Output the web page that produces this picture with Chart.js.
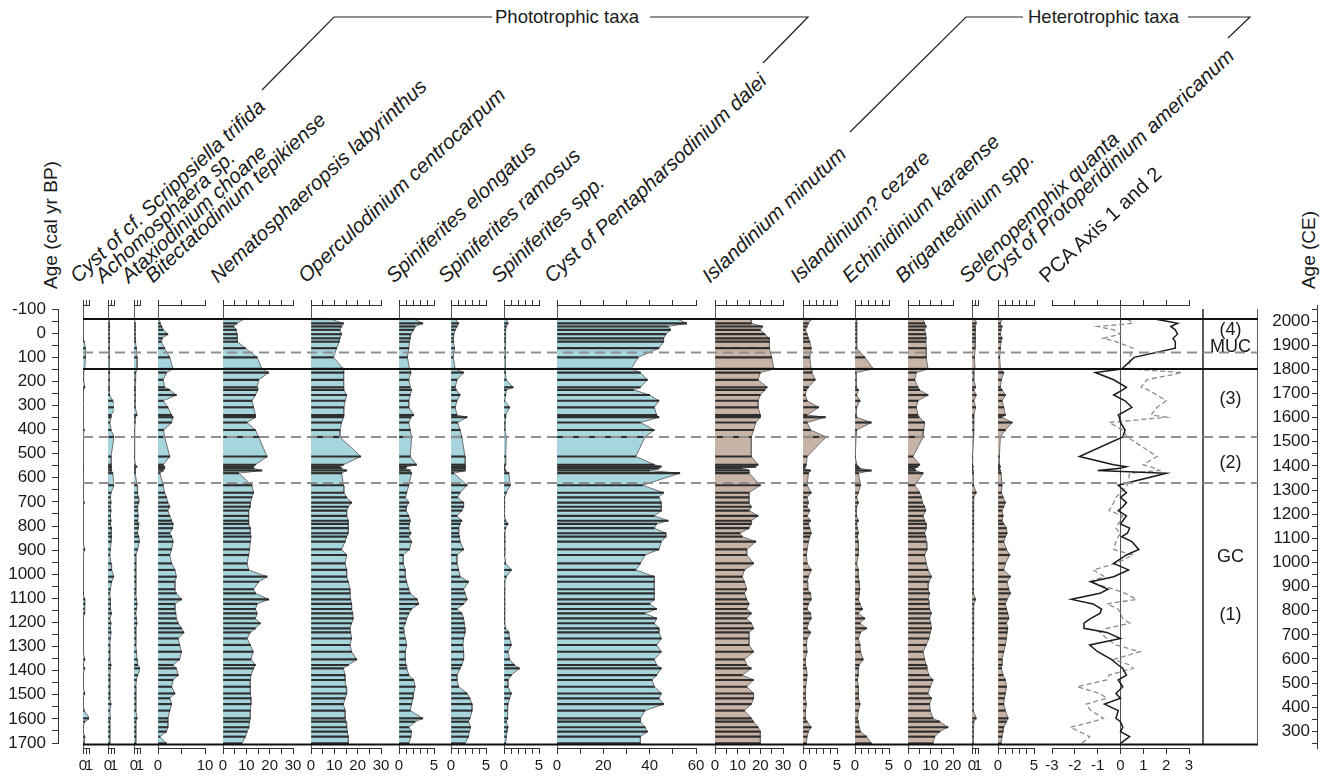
<!DOCTYPE html>
<html>
<head>
<meta charset="utf-8">
<script src="https://cdn.jsdelivr.net/npm/chart.js@4.4.1/dist/chart.umd.min.js"></script>
<style>
  body { margin: 0; width: 1328px; height: 780px; position: relative; overflow: hidden; background: #fff;
         font-family: "Liberation Sans", Arial, sans-serif; color: #1a1a1a; }
  canvas { position: absolute; }
  .taxon { position: absolute; white-space: nowrap; font-size: 20.5px; line-height: 20px; height: 20px;
           transform-origin: 0 100%; transform: rotate(-43deg); font-style: italic; }
  .taxon span { font-style: normal; }
  .group { position: absolute; font-size: 18.5px; line-height: 18px; white-space: nowrap; }
  .axtitle { position: absolute; font-size: 19px; line-height: 19px; white-space: nowrap;
             transform: translate(-50%, -50%) rotate(-90deg); }
</style>
</head>
<body>
<svg width="1328" height="300" style="position:absolute;left:0;top:0">
  <polyline points="262,90 334,17 492,17" fill="none" stroke="#222" stroke-width="1.2"/>
  <polyline points="650,17 808,17 763,63" fill="none" stroke="#222" stroke-width="1.2"/>
  <polyline points="850,132 966,17 1023,17" fill="none" stroke="#222" stroke-width="1.2"/>
  <polyline points="1188,17 1250,17 1228,38" fill="none" stroke="#222" stroke-width="1.2"/>
</svg>
<div class="group" style="left:495px;top:8px">Phototrophic taxa</div>
<div class="group" style="left:1028px;top:8px">Heterotrophic taxa</div>
<div class="axtitle" style="left:50px;top:225px">Age (cal yr BP)</div>
<div class="axtitle" style="left:1308px;top:250px">Age (CE)</div>

<script>
// sample ages (cal yr BP), top of MUC to bottom of GC
const AGES = [-59,-41,-28,-14,4,21,35,62,100,148, 163,193,224,235,256,280,307,339,348,370,
  401,430,511,545,553,560,569,580,630,661, 680,702,719,735,757,777,790,808,829,843,
  864,896,919,954,981,1009,1030,1061,1078,1103, 1122,1143,1161,1182,1202,1223,1240,1265,1292,1320,
  1352,1375,1389,1417,1437,1465,1493,1513,1537,1564, 1596,1610,1633,1651,1672,1700];

// percentages per taxon
const scrippsiella = [0,0,0,0,0,0,0.2,0.4,0.4,0.3, 0.1,0.1,0.3,0.1,0,0,0,0,0,0,
  0.2,0,0,0,0,0,0,0,0,0, 0,0.2,0,0,0,0,0,0,0,0, 0,0.3,0,0,0,0,0,0,0.1,0.3,
  0.3,0.2,0.3,0,0,0,0,0,0,0, 0.3,0,0.3,0,0,0,0.3,0,0,0.2, 1.1,0.3,0,0,0.3,0.2];
const achomosphaera = [0.2,0.2,0.3,0.2,0.2,0.3,0.2,0.2,0.2,0.2, 0.3,0.2,0.2,0.2,0.3,0.8,1.3,0.5,0.5,0.3,
  0.5,1.0,0.5,0.5,0.6,0.5,0.6,0.8,1.0,0.5, 0.4,0.5,0.4,0.5,0.4,0.5,0.4,0.6,0.5,0.6,
  0.5,0.4,0.3,0.5,0.6,1.0,0.6,0.4,0.3,0.4, 0.4,0.4,0.6,0.3,0.5,0.4,0.5,0.4,0.3,0.3,
  0.3,0.5,0.4,0.3,0.3,0.3,0.3,0.3,0.5,0.3, 0.4,0.3,0.3,0.3,0.3,0.3];
const ataxiodinium = [0.1,0.2,0.2,0.2,0.2,0.2,0.3,0.4,0.5,0.5, 0.3,0.2,0.2,0.2,0.2,0.2,0.2,0.5,0.2,0.2,
  0.1,0.1,0.1,0.2,0.5,0.2,0.2,0.2,0.5,0.6, 0.7,0.8,0.6,0.6,0.7,0.6,0.8,0.7,0.6,0.8,
  0.9,0.6,0.3,0.3,0.3,0.3,0.3,0.3,0.3,0.4, 0.5,0.4,0.3,0.4,0.5,0.3,0.3,0.3,0.3,0.4,
  0.5,0.6,1.1,0.6,0.4,0.3,0.3,0.3,0.3,0.3, 0.5,0.3,0.3,0.3,0.3,0.3];
const bitectatodinium = [0.2,0.5,0.8,1.1,2.1,0.9,0.7,1.4,2.5,3.2, 1.8,1.1,1.4,2.5,3.9,1.1,2.1,2.9,3.2,2.9,
  1.2,1.4,2.5,1.1,1.4,1.4,1.1,0.4,1.1,1.4, 1.8,2.1,2.5,2.1,2.5,2.9,3.2,3.1,2.5,2.9,
  3.2,2.9,2.5,2.9,3.6,3.9,3.6,3.6,3.9,5.0, 3.6,3.6,3.8,3.9,4.3,5.0,5.5,4.3,4.6,5.0,
  4.6,3.2,3.9,4.3,3.2,2.9,3.6,2.5,2.9,2.5, 2.1,2.1,2.1,1.8,0.4,1.8];
const nematosphaeropsis = [8.9,6,4.6,5.7,6,6,6.3,9.6,14.6,16.7, 19.6,15.3,14.6,14.9,13.9,12.4,13.1,13.9,13.9,10.3,
  13.9,15.3,18.9,13.9,13.1,13.1,16.7,6.7,12.4,13.1, 12.4,11.7,11.7,11,11,11,11,11.7,11.7,12,
  11.7,11.4,11,10.3,11,18.9,15.3,13.1,13.9,19.6, 14.6,13.9,14.6,13.9,16,13.9,11.7,10.3,11.7,12.9,
  12,13.9,13.1,12,11.7,11.7,11.7,12,12,11.7, 11.7,11.4,11.1,10.3,9.6,8.1];
const operculodinium = [8.1,13.9,13.1,12.4,13.1,12.4,12.1,11,9.6,13.9, 14.1,13.9,13.9,14.1,15.3,14.6,14.1,14.1,13.9,13.1,
  12.4,12.4,21.3,13.9,12.4,13.1,15.3,13.1,13.9,14.1, 15.3,17.4,16,15.3,15.3,16,16,16,16,15.3,
  14.6,13.1,15.3,14.6,15.3,15.3,16,16.7,16.7,17, 17.4,17.4,17.9,18.1,17.4,16.7,17,17.4,16.7,17.4,
  19.6,16,13.9,14.6,14.6,15,15.3,14.6,13.9,14.6, 14.6,15,15.3,15.6,16,16];
const spinElongatus = [2.1,3.4,2.3,2.1,1.7,1.6,1.5,1.4,1.2,1.5, 1.7,1.4,1.6,1.8,1.6,1.4,1.4,2.1,1.7,1.4,
  1.6,1.8,1.6,2.5,1.1,0.9,1.6,1.8,1.4,1.1, 0.9,1.4,1.1,1.0,1.4,1.6,1.5,1.4,1.7,1.4,
  1.8,1.5,0.6,0.6,0.9,0.9,1.1,1.4,1.6,2.6, 2.8,1.8,1.4,1.1,0.9,0.6,0.7,0.9,1.1,0.9,
  0.9,1.0,1.1,1.4,2.1,2.3,2.1,2.0,1.8,1.6, 3.4,2.3,1.4,1.8,1.7,1.4];
const spinRamosus = [0.6,1.1,0.85,0.6,0.4,0.3,0.4,0.5,0.3,0.6, 1.8,0.85,0.6,0.75,1.3,0.85,0.6,0.85,2.3,0.95,
  1.3,1.55,2.0,2.0,2.1,2.0,2.0,0.4,2.3,1.3, 0.95,1.8,1.8,1.55,0.85,1.55,1.3,1.1,1.1,1.2,
  1.3,1.8,0.85,0.85,1.1,1.3,2.5,1.8,2.0,2.3, 1.8,0.85,1.55,1.8,1.9,2.0,2.0,1.8,1.7,1.8,
  1.8,1.55,1.3,0.85,0.85,1.1,2.3,2.7,3.0,3.0, 2.7,2.5,2.8,2.6,2.5,2.0];
const spinSpp = [0.33,0.57,0.33,0.24,0.19,0.19,0.19,0.19,0.19,0.19, 0.24,0.3,1.3,0.33,0.24,0.1,0.8,0.24,0.24,0.14,
  0.14,0.33,0.24,0.24,0.1,0.1,0.24,0.7,0.9,0.33, 0.1,0.1,0.1,0,0.1,0.24,0.57,0.24,0.1,0.1,
  0.14,0.1,0.1,0.24,1.05,0.33,0.1,0.1,0.1,0.1, 0.1,0.1,0.1,0.1,0.1,0.24,0.7,0.8,1.05,0.57,
  0.8,1.5,2.2,1.05,0.57,0.57,1.05,0.8,0.57,0.43, 0.57,0.33,0.57,0.43,0.33,0.24];
const pentapharsodinium = [52,56,48,49,47,46,46,44,35,32, 36,39,36,33,40,44,42,43,44,36,
  42,38,34,42,45,44,40,53,37,46, 44,45,45,45,42,48,43,42,47,47,
  45,44,38,36,34,42,42,42,42,42, 40,43,38,43,42,44,44,45,43,45,
  42,43,45,43,41,42,45,44,46,38, 36,36,38,39,36,36];
const islMinutum = [16,16,21,20,22,24,24,24,25,26, 20,19,23,22,20,19,19,20,20,18,
  17,16,16,19,18,12,15,15,20,15, 15,15,16,15,19,16,16,15,11,12,
  18,14,14,17,13,12,13,14,13,14, 15,14,16,14,16,17,15,15,15,17,
  13,14,16,12,17,14,17,17,16,13, 16,17,19,20,20,20];
const islCezare = [1.3,0.8,0.6,0.35,0.6,0.8,1.0,1.2,1.0,1.2, 1.3,1.8,0.8,0.5,0.35,0.6,2.3,0.6,3.3,0.6,
  1.1,3.4,0.6,0.5,0.35,0.2,1.1,0.8,0.6,1.2, 0.6,0.8,0.6,1.0,0.6,1.1,0.8,1.0,1.2,1.0,
  0.8,0.6,0.5,0.6,1.2,0.8,0.6,0.7,1.1,1.2, 0.8,0.6,1.1,1.2,0.8,0.6,1.1,0.6,0.5,0.6,
  0.35,0.35,0.5,0.6,0.5,0.4,0.35,0.35,0.5,0.35, 0.35,0.6,1.2,0.8,0.6,0.5];
const echinidinium = [0.25,0.25,0.25,0.25,0.25,0.25,0.25,0.25,1.45,2.7, 0.15,0.15,0.25,0.5,0.25,0.73,0.25,0.15,0.25,2.4,
  0.25,0.15,0.05,0.25,0.5,0.73,2.4,0.5,0.8,0.5, 0.25,0.5,0.25,0.15,0.25,0.5,0.25,0.35,0.5,0.35,
  0.5,0.5,0.5,0.25,0.5,0.5,0.6,0.73,0.6,0.5, 0.73,1.1,0.5,1.45,0.73,1.7,0.8,0.5,0.73,0.8,
  1.2,0.6,0.5,0.5,0.35,0.5,0.5,0.5,0.73,0.5, 0.35,0.5,0.6,0.8,1.7,2.4];
const brigantedinium = [6.7,7.4,8.1,7.4,7.9,8.1,7.9,8.1,8.1,8.9, 3.7,3.0,4.4,5.2,8.9,4.4,3.7,4.4,4.9,7.4,
  7.0,6.7,2.2,5.2,4.4,3.0,3.4,6.7,3.0,5.2, 5.9,6.4,7.4,7.9,6.7,7.4,8.1,8.1,7.4,7.9,
  8.1,8.4,7.4,8.1,8.9,10.4,9.3,8.9,9.6,8.9, 9.3,9.6,10.4,9.6,10.1,10.4,9.9,9.3,8.1,6.7,
  7.4,8.1,8.4,9.3,11.1,9.9,8.9,10.4,9.6,9.9, 11.1,14.1,17.8,14.1,11.9,11.1];
const selenopemphix = [0.6,0.7,0.5,0.6,0.5,0.6,0.5,0.5,0.4,0.5, 0.3,0.3,0.6,0.3,0.7,0.3,0.6,0.3,0.3,0.3,
  0.3,0.2,0.1,0.1,0.2,0.1,0.2,0.2,0.3,0.7, 0.3,0.2,0.2,0.3,0.2,0.2,0.3,0.2,0.2,0.2,
  0.3,0.2,0.2,0.2,0.3,0.2,0.2,0.3,0.2,0.6, 0.3,0.2,0.2,0.2,0.3,0.2,0.2,0.3,0.2,0.2,
  0.2,0.2,0.3,0.2,0.2,0.2,0.2,0.2,0.3,0.2, 0.7,0.3,0.2,0.2,0.2,0.2];
const protoperidinium = [0.56,0.33,0.56,0.42,0.33,0.56,0.42,0.33,0.23,0.33, 0.8,0.47,0.33,0.56,1.03,0.56,0.8,1.03,0.56,1.96,
  1.03,0.33,0.19,0.19,0.33,0.23,0.33,0.42,0.56,0.47, 0.7,1.03,0.8,0.56,0.7,0.56,0.8,1.17,1.26,1.03,
  0.8,1.17,1.64,1.03,0.8,1.73,1.26,1.5,1.73,1.26, 1.03,1.17,1.36,1.5,1.17,1.36,1.26,1.17,1.03,0.8,
  0.56,0.56,0.47,0.7,1.03,1.17,1.03,0.89,0.8,1.03, 1.4,1.17,0.8,0.7,0.56,0.42];
// PCA scores
const pcaAxis1 = [1.5,2.5,2.2,2.4,2.5,2.3,2.4,2.4,0.6,0.05, -1.1,-0.3,0.26,0.1,-0.3,0.2,0.5,-0.1,-0.05,0,
  0.2,0.1,-1.8,-0.3,0.26,0,-1.0,2.0,-0.1,0.26, 0,0.26,0.1,-0.1,0.26,0.1,0,0.4,0.3,0.05,
  0.5,0.8,0.26,-0.3,0.35,-0.3,-1.3,-0.55,-0.9,-2.15, -1.2,-0.83,-0.9,-1.3,-1.6,-1.6,-0.6,0,-1.35,-1.0,
  -0.4,-0.1,0.1,0.26,-0.1,0.1,-0.2,0,-0.7,-0.1, -0.2,0,0.1,0,0.4,0];
const pcaAxis2 = [0.3,0.55,-1.0,-0.3,0,-0.75,-0.2,0.55,0.4,0.4, 2.7,1.15,0.9,1.2,1.6,2.0,1.6,1.35,2.0,-0.5,
  0.1,0.3,1.6,1.0,1.3,1.5,1.7,0.4,0.3,0, -0.2,-0.3,-0.4,-0.5,0.1,0,-0.1,-0.2,0,-0.1,
  -0.2,-0.3,0.55,-0.2,-1.2,-0.7,-1.35,-0.3,0.2,0.7, -0.6,-0.1,0,0.1,0.4,-0.6,-0.9,-0.6,-0.2,0.85,
  -0.3,0.4,0.55,-0.5,-0.6,-1.9,-0.9,-0.6,-1.5,-1.3, -0.75,-1.2,-2.2,-1.8,-1.35,-1.7];

// zone boundaries and labels
const solidBounds = [-59, 148, 1704];
const dashedBounds = [80, 430, 621];
const zoneLabels = ['(4)', 'MUC', '(3)', '(2)', 'GC', '(1)'];
const zoneAges = [-14, 56, 272, 538, 927, 1168];

const BLUE = '#a6d5de', BROWN = '#c8b4a6';
const AGE_TOP = -117, AGE_BOTTOM = 1719;   // plot area 305..748 px
const AREA_TOP = 305, AREA_H = 443;

Chart.defaults.font.family = '"Liberation Sans", Arial, sans-serif';
Chart.defaults.color = '#1a1a1a';

const panels = [
  {name: 'Cyst of cf. <i>Scrippsiella trifida</i>', data: scrippsiella, x0: 83, w: 6, max: 1, step: 0.5, labels: [0, 1], color: BLUE},
  {name: '<i>Achomosphaera</i> sp.', data: achomosphaera, x0: 108, w: 6, max: 1, step: 0.5, labels: [0, 1], color: BLUE},
  {name: '<i>Ataxiodinium choane</i>', data: ataxiodinium, x0: 134, w: 6, max: 1, step: 0.5, labels: [0, 1], color: BLUE},
  {name: '<i>Bitectatodinium tepikiense</i>', data: bitectatodinium, x0: 158, w: 47, max: 10, step: 5, labels: [0, 10], color: BLUE},
  {name: '<i>Nematosphaeropsis labyrinthus</i>', data: nematosphaeropsis, x0: 223, w: 70, max: 30, step: 5, labels: [0, 10, 20, 30], color: BLUE},
  {name: '<i>Operculodinium centrocarpum</i>', data: operculodinium, x0: 311, w: 70, max: 30, step: 5, labels: [0, 10, 20, 30], color: BLUE},
  {name: '<i>Spiniferites elongatus</i>', data: spinElongatus, x0: 399, w: 35, max: 5, step: 1, labels: [0, 5], color: BLUE},
  {name: '<i>Spiniferites ramosus</i>', data: spinRamosus, x0: 451, w: 35, max: 5, step: 1, labels: [0, 5], color: BLUE},
  {name: '<i>Spiniferites</i> spp.', data: spinSpp, x0: 504, w: 35, max: 5, step: 1, labels: [0, 5], color: BLUE},
  {name: 'Cyst of <i>Pentapharsodinium dalei</i>', data: pentapharsodinium, x0: 557, w: 139, max: 60, step: 10, labels: [0, 20, 40, 60], color: BLUE},
  {name: '<i>Islandinium minutum</i>', data: islMinutum, x0: 715, w: 68, max: 30, step: 5, labels: [0, 10, 20, 30], color: BROWN},
  {name: '<i>Islandinium? cezare</i>', data: islCezare, x0: 803, w: 34, max: 5, step: 1, labels: [0, 5], color: BROWN},
  {name: '<i>Echinidinium karaense</i>', data: echinidinium, x0: 855, w: 34, max: 5, step: 1, labels: [0, 5], color: BROWN},
  {name: '<i>Brigantedinium</i> spp.', data: brigantedinium, x0: 908, w: 45, max: 20, step: 5, labels: [0, 10, 20], color: BROWN},
  {name: '<i>Selenopemphix quanta</i>', data: selenopemphix, x0: 972, w: 6, max: 1, step: 0.5, labels: [0, 1], color: BROWN},
  {name: 'Cyst of <i>Protoperidinium americanum</i>', data: protoperidinium, x0: 998, w: 36, max: 5, step: 1, labels: [0, 5], color: BROWN},
  {name: '<span>PCA Axis 1 and 2</span>', pca: true, x0: 1052, w: 137, min: -3, max: 3, step: 1, labels: [-3, -2, -1, 0, 1, 2, 3]}
];

function toPoints(vals) {
  return AGES.map((a, i) => ({x: vals[i], y: a}));
}

function addCanvas(left, top, w, h) {
  const cv = document.createElement('canvas');
  cv.width = w; cv.height = h;
  cv.style.left = left + 'px';
  cv.style.top = top + 'px';
  document.body.appendChild(cv);
  return cv;
}

function drawPanel(p) {
  const PAD = 14, TOP_H = 10, BOT_H = 32;
  const cv = addCanvas(p.x0 - PAD, AREA_TOP - TOP_H, p.w + 2 * PAD, TOP_H + AREA_H + BOT_H);
  const min = p.min || 0;
  let datasets;
  if (p.pca) {
    datasets = [
      {type: 'line', data: toPoints(pcaAxis1), borderColor: '#1a1a1a', borderWidth: 1.5, pointRadius: 0, fill: false},
      {type: 'line', data: toPoints(pcaAxis2), borderColor: '#8c8c8c', borderWidth: 1.3, borderDash: [5, 3], pointRadius: 0, fill: false}
    ];
  } else {
    const pts = toPoints(p.data);
    datasets = [
      {type: 'bar', data: pts, backgroundColor: '#2e2e2e', barThickness: 1.5, order: 1},
      {type: 'line', data: pts, borderColor: '#707070', borderWidth: 1, backgroundColor: p.color,
       fill: 'origin', pointRadius: 0, tension: 0, order: 2}
    ];
  }
  new Chart(cv, {
    type: 'line',
    data: {datasets: datasets},
    options: {
      indexAxis: 'y', responsive: false, animation: false, devicePixelRatio: 1, events: [],
      layout: {padding: {left: PAD, right: PAD, top: 0, bottom: 0}},
      plugins: {legend: {display: false}, tooltip: {enabled: false}},
      scales: {
        y: {type: 'linear', display: false, reverse: true, min: AGE_TOP, max: AGE_BOTTOM, offset: false, grid: {offset: false}},
        x: {type: 'linear', position: 'bottom', min: min, max: p.max, z: 1, offset: false,
            ticks: {stepSize: p.step, autoSkip: false, maxRotation: 0, includeBounds: false, padding: 3,
                    font: {size: 15}, color: '#1a1a1a',
                    callback: v => p.labels.includes(v) ? String(v) : ''},
            grid: {color: c => (c.tick && c.tick.value === 0) ? '#555' : 'rgba(0,0,0,0)',
                   tickColor: '#333', tickLength: 6, lineWidth: 1},
            border: {color: '#333', width: 1},
            afterFit: s => { s.height = BOT_H; s.paddingLeft = 0; s.paddingRight = 0; }},
        xt: {type: 'linear', axis: 'x', position: 'top', min: min, max: p.max, offset: false,
             ticks: {stepSize: p.step, display: false, includeBounds: false},
             grid: {drawOnChartArea: false, tickColor: '#333', tickLength: 5},
             border: {color: '#333', width: 1},
             afterFit: s => { s.height = TOP_H; s.paddingLeft = 0; s.paddingRight = 0; }}
      }
    }
  });

  // taxon header
  const d = document.createElement('div');
  d.className = 'taxon';
  d.innerHTML = p.name;
  d.style.left = (p.x0 - 3) + 'px';
  d.style.top = (286 - 20) + 'px';
  document.body.appendChild(d);
}

panels.forEach(drawPanel);

// zone frame: boundaries across all panels, zone column
const COL_X = (1203 - 83) / 1175;
const frameSets = [];
solidBounds.forEach(a => frameSets.push({data: [{x: 0, y: a}, {x: 1, y: a}], borderColor: '#111', borderWidth: 2}));
dashedBounds.forEach(a => frameSets.push({data: [{x: 0, y: a}, {x: 1, y: a}], borderColor: '#8f8f8f', borderWidth: 2, borderDash: [10, 6]}));
[COL_X, 1].forEach(c => frameSets.push({data: [{x: c, y: -100}, {x: c, y: 1704}], borderColor: '#444', borderWidth: 1}));

new Chart(addCanvas(79, AREA_TOP - 4, 1175 + 8, AREA_H + 8), {
  type: 'line',
  data: {datasets: frameSets.map(s => Object.assign({pointRadius: 0, fill: false}, s))},
  options: {
    responsive: false, animation: false, devicePixelRatio: 1, events: [],
    layout: {padding: 4},
    plugins: {legend: {display: false}, tooltip: {enabled: false}},
    scales: {
      x: {type: 'linear', display: false, min: 0, max: 1},
      y: {type: 'linear', display: false, reverse: true, min: AGE_TOP, max: AGE_BOTTOM}
    }
  },
  plugins: [{
    id: 'zoneText',
    afterDatasetsDraw(chart) {
      const {ctx, scales} = chart;
      ctx.save();
      ctx.font = '18px "Liberation Sans", Arial, sans-serif';
      ctx.fillStyle = '#1a1a1a';
      ctx.textAlign = 'center';
      ctx.textBaseline = 'middle';
      const cx = scales.x.getPixelForValue((COL_X + 1) / 2);
      zoneLabels.forEach((t, i) => ctx.fillText(t, cx, scales.y.getPixelForValue(zoneAges[i])));
      ctx.restore();
    }
  }]
});

// age axes
function axisChart(left, top, w, h, axisW, yOpts) {
  new Chart(addCanvas(left, top, w, h), {
    type: 'line',
    data: {datasets: []},
    options: {
      responsive: false, animation: false, devicePixelRatio: 1, events: [],
      layout: {padding: {top: 12, bottom: 12, left: 0, right: 0}},
      plugins: {legend: {display: false}, tooltip: {enabled: false}},
      scales: {
        x: {type: 'linear', display: false},
        y: Object.assign({type: 'linear', position: 'left',
          grid: {drawOnChartArea: false, tickColor: '#333', tickLength: yOpts.tl},
          border: {color: '#333', width: 1},
          afterFit: s => { s.width = axisW; s.paddingTop = 0; s.paddingBottom = 0; }}, yOpts.y)
      }
    }
  });
}

// cal yr BP, -100 .. 1700
axisChart(0, 309 - 12, 62, 434 + 24, 58, {tl: 6, y: {reverse: true, min: -100, max: 1700,
  ticks: {stepSize: 50, autoSkip: false, padding: 6, font: {size: 17}, color: '#1a1a1a',
          callback: v => v % 100 === 0 ? String(v) : ''}}});
// CE = 1950 - BP
axisChart(1262, AREA_TOP - 12, 61, AREA_H + 24, 55, {tl: 5, y: {min: 1950 - AGE_BOTTOM, max: 1950 - AGE_TOP,
  ticks: {stepSize: 50, autoSkip: false, includeBounds: false, padding: 2, font: {size: 17}, color: '#1a1a1a',
          callback: v => (v % 100 === 0 && v >= 300 && v <= 2000) ? String(v) : ''}}});
</script>
</body>
</html>
